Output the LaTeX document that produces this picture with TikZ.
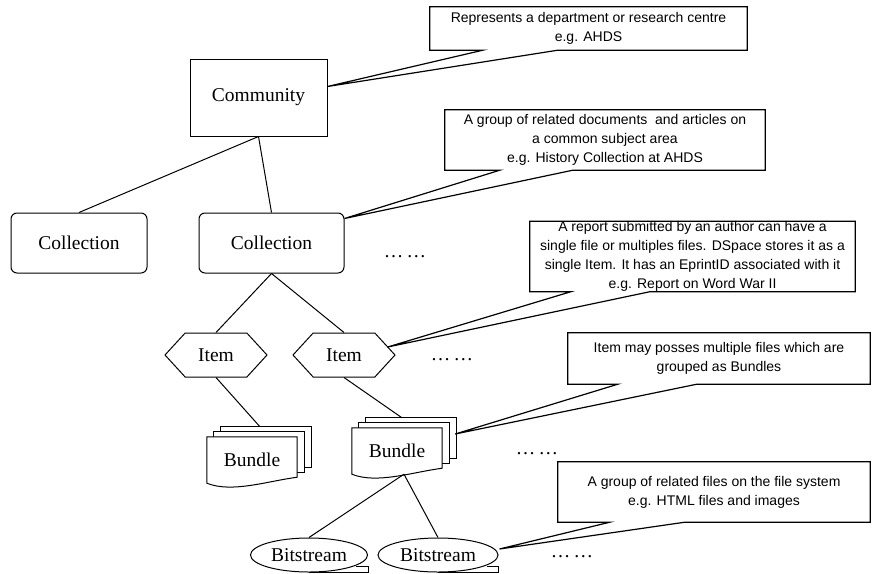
\documentclass[tikz,border=0pt]{standalone}
\usepackage{fontspec}
\setmainfont{Liberation Serif}
\newfontfamily\notefont{Liberation Sans}
\usetikzlibrary{shapes.geometric,shapes.symbols}

% stack of three sheets behind a bundle node
\newcommand{\bundlestack}[1]{%
  \draw[sheet] ([shift={(14,-10)}]#1.north west) rectangle ([shift={(14,-16)}]#1.south east);
  \draw[sheet] ([shift={(7,-5)}]#1.north west) rectangle ([shift={(7,-11)}]#1.south east);
  \draw[sheet] (#1.north west) -- (#1.north east) -- ([yshift=6pt]#1.south east)
     .. controls +(-30,4) and +(25,10) .. (#1.south west) -- cycle;
  \node[nodetext] at (#1) {Bundle};}

\begin{document}
\begin{tikzpicture}[x=1pt,y=-1pt,
        nodetext/.style={font=\fontsize{19.5}{22}\selectfont},
        box/.style={draw,line width=1pt,nodetext},
        sheet/.style={draw,fill=white,line width=1pt},
        itembox/.style={box,shape=signal,signal to=west and east,signal pointer angle=95,
                        minimum width=102pt,minimum height=44pt,inner sep=0pt},
        streambox/.style={box,ellipse,minimum height=34pt,inner sep=0pt},
        note/.style={align=center,inner sep=0pt,font=\notefont\fontsize{14}{19}\selectfont},
        callout/.style={draw,line width=1.2pt},
        link/.style={line width=1pt}]
        \useasboundingbox (0,0) rectangle (872,573);

        \node[box,minimum width=137pt,minimum height=77pt] (comm) at (258.5,97.5) {Community};
        \node[box,rounded corners=6pt,minimum width=136pt,minimum height=60pt] (coll1) at (79,243) {Collection};
        \node[box,rounded corners=6pt,minimum width=145pt,minimum height=60pt] (coll2) at (271.5,243) {Collection};
        \node[itembox] (item1) at (216,355) {Item};
        \node[itembox] (item2) at (344,355) {Item};
        \node[minimum width=90pt,minimum height=46pt] (bund1) at (252,460) {};
        \node[minimum width=90pt,minimum height=46pt] (bund2) at (397,451) {};
        \bundlestack{bund1}
        \bundlestack{bund2}
        \node[streambox,minimum width=117pt] (bs1) at (309,555) {Bitstream};
        \node[streambox,minimum width=120pt] (bs2) at (438,555) {Bitstream};
        \draw[link] (bs1.south) -- (bs1.south -| bs1.east) -- ++(0,-6) -- ++(-12,0);
        \draw[link] (bs2.south) -- (bs2.south -| bs2.east) -- ++(0,-6) -- ++(-12,0);

        \node[nodetext] (dots1) at (405,257) {…\,…};
        \node[nodetext] (dots2) at (452,360) {…\,…};
        \node[nodetext] (dots3) at (537,454) {…\,…};
        \node[nodetext] (dots4) at (572,557) {…\,…};

        \draw[link] (comm.south) -- (coll1.north);
        \draw[link] (comm.south) -- (coll2.north);
        \draw[link] (coll2.south) -- (item1.north);
        \draw[link] (coll2.south) -- (item2.north);
        \draw[link] (item1.south) -- ([shift={(8,-10)}]bund1.north);
        \draw[link] (item2.south) -- ([shift={(5,-10)}]bund2.north);
        \draw[link] ([xshift=7pt]bund2.south) -- (bs1.north);
        \draw[link] ([xshift=7pt]bund2.south) -- (bs2.north);

        \node[note,minimum width=317pt,minimum height=43pt] (note1) at (588.5,28.5)
            {Represents a department or research centre\\e.g. AHDS};
        \draw[callout] (note1.north west) -- (note1.north east) -- (note1.south east)
            -- ([xshift=128pt]note1.south west) -- ([yshift=11pt]comm.east)
            -- ([xshift=53pt]note1.south west) -- (note1.south west) -- cycle;

        \node[note,minimum width=320pt,minimum height=60pt] (note2) at (605,140)
            {A group of related documents\ \ and articles on\\a common subject area\\e.g. History Collection at AHDS};
        \draw[callout] (note2.north west) -- (note2.north east) -- (note2.south east)
            -- ([xshift=128pt]note2.south west) -- ([yshift=-6pt]coll2.north east)
            -- ([xshift=55pt]note2.south west) -- (note2.south west) -- cycle;

        \node[note,minimum width=325pt,minimum height=69pt] (note3) at (692.5,256.5)
            {A report submitted by an author can have a\\single file or multiples files. DSpace stores it as a\\single Item. It has an EprintID associated with it\\e.g. Report on Word War II};
        \draw[callout] (note3.north west) -- (note3.north east) -- (note3.south east)
            -- ([xshift=120pt]note3.south west) -- ([shift={(-8,-8)}]item2.east)
            -- ([xshift=41pt]note3.south west) -- (note3.south west) -- cycle;

        \node[note,minimum width=302pt,minimum height=51pt] (note4) at (719,358.5)
            {Item may posses multiple files which are\\grouped as Bundles};
        \draw[callout] (note4.north west) -- (note4.north east) -- (note4.south east)
            -- ([xshift=129pt]note4.south west) -- ([shift={(13,-17)}]bund2.east)
            -- ([xshift=50pt]note4.south west) -- (note4.south west) -- cycle;

        \node[note,minimum width=312pt,minimum height=60pt] (note5) at (714,492)
            {A group of related files on the file system\\e.g. HTML files and images};
        \draw[callout] (note5.north west) -- (note5.north east) -- (note5.south east)
            -- ([xshift=127pt]note5.south west) -- ([shift={(1,-6)}]bs2.east)
            -- ([xshift=52pt]note5.south west) -- (note5.south west) -- cycle;
\end{tikzpicture}
\end{document}
